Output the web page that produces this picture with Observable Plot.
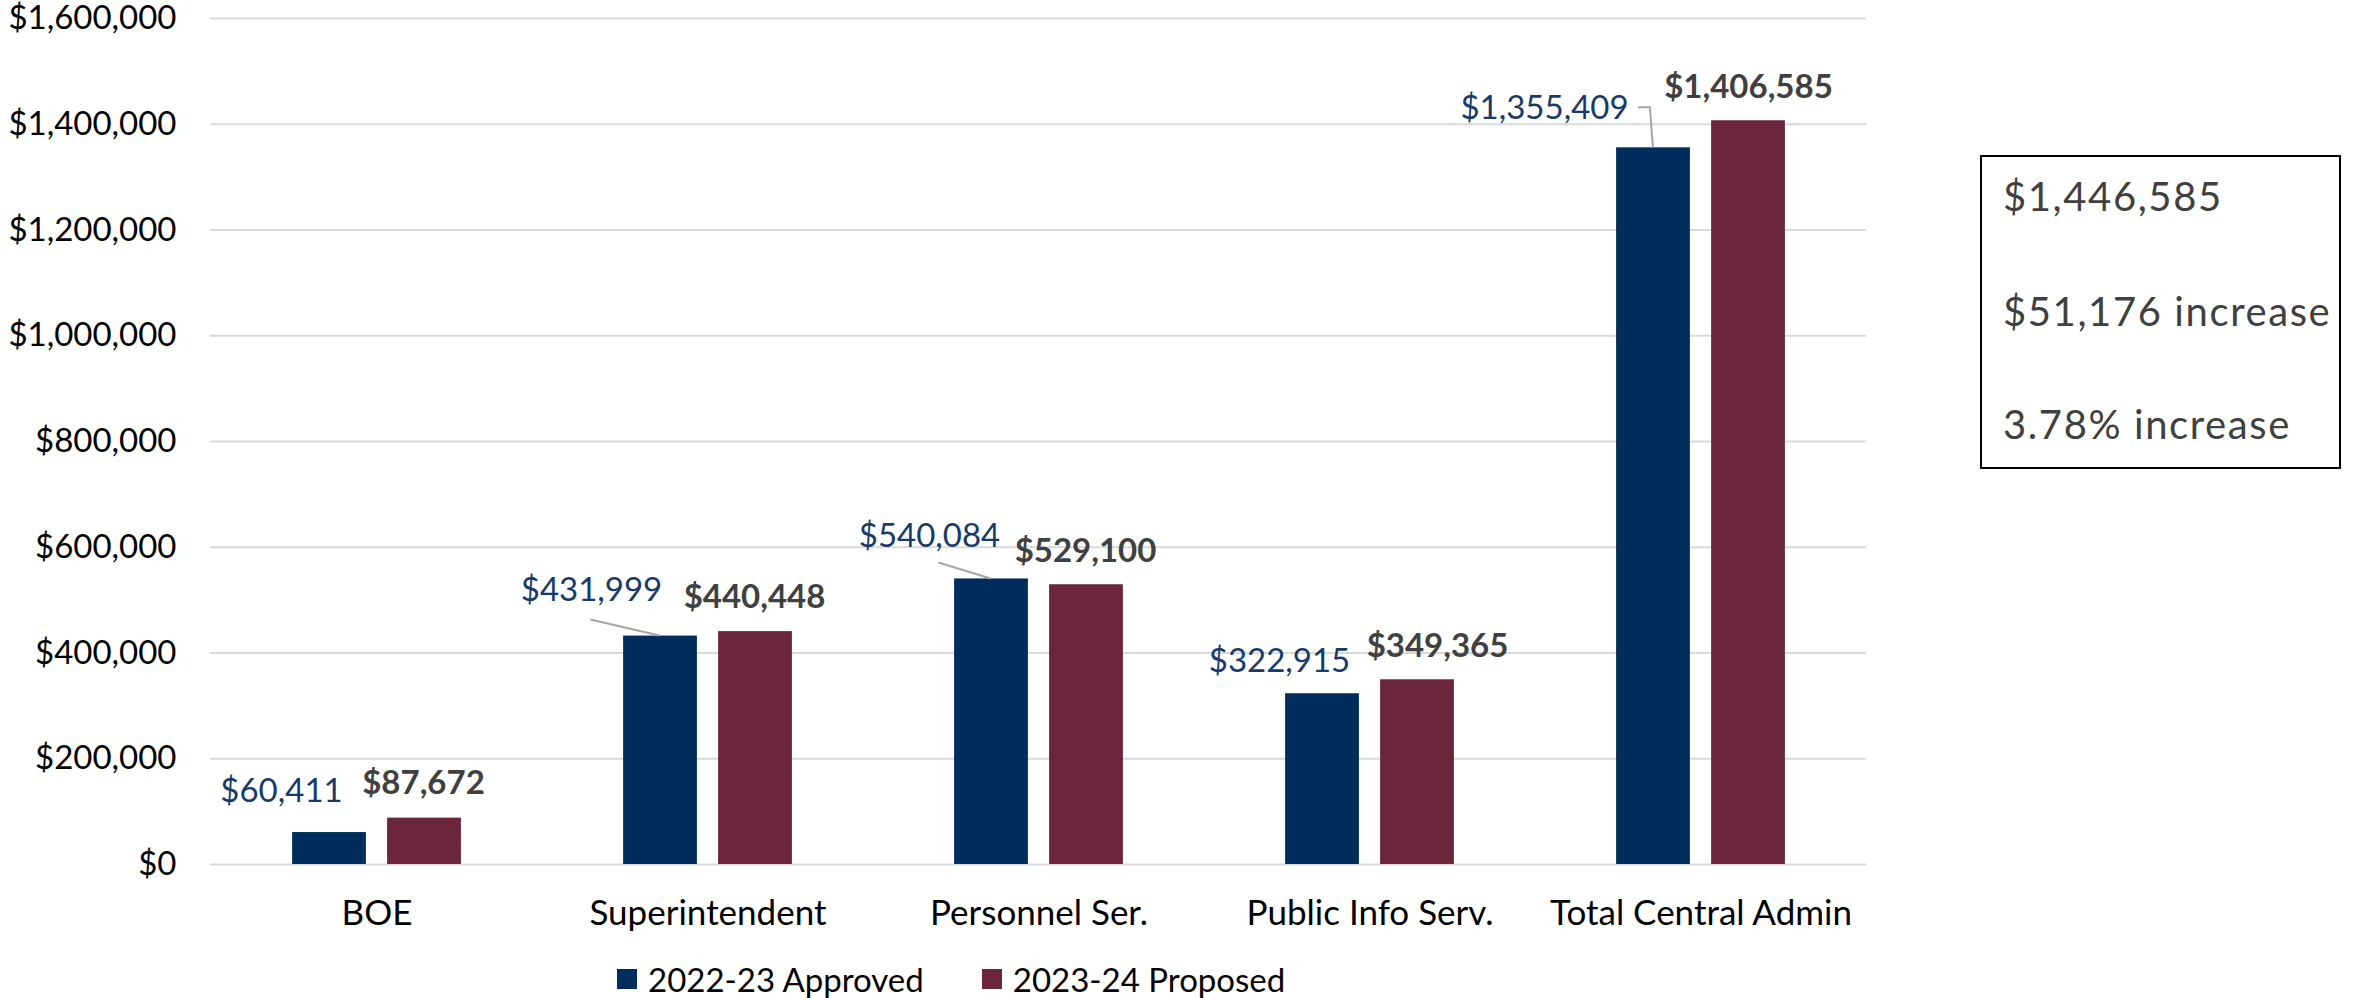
<!DOCTYPE html>
<html>
<head>
<meta charset="utf-8">
<script src="https://cdn.jsdelivr.net/npm/d3@7"></script>
<script src="https://cdn.jsdelivr.net/npm/@observablehq/plot@0.6"></script>
<style>
  html, body { margin: 0; padding: 0; background: #fff; }
  #wrap { position: relative; width: 2356px; height: 998px; font-family: Lato, "Noto Sans", sans-serif; }
  #chart { position: absolute; left: 0; top: 0; }
  #legend { position: absolute; left: 617px; top: 959px; height: 40px; display: flex; align-items: center; font-size: 33px; color: #000; }
  #legend .item { display: flex; align-items: center; margin-right: 58px; }
  #legend .sw { width: 20px; height: 20px; margin-right: 11px; }
  #box { position: absolute; left: 1980px; top: 155px; width: 357px; height: 310px; border: 2px solid #000; color: #404040; font-size: 40px; letter-spacing: 1.6px; }
  #box div { position: absolute; left: 21px; line-height: 1; transform: translateY(-50%); white-space: nowrap; }
</style>
</head>
<body>
<div id="wrap">
  <div id="chart"></div>
  <div id="legend"></div>
  <div id="box"></div>
</div>
<script>
// ---- data ----
const categories = ["BOE", "Superintendent", "Personnel Ser.", "Public Info Serv.", "Total Central Admin"];
const approved = [60411, 431999, 540084, 322915, 1355409];
const proposed = [87672, 440448, 529100, 349365, 1406585];
const seriesNames = ["2022-23 Approved", "2023-24 Proposed"];
const seriesColors = ["#002d5c", "#6c263c"];
const yTicks = [0, 200000, 400000, 600000, 800000, 1000000, 1200000, 1400000, 1600000];
const summaryLines = ["$1,446,585", "$51,176 increase", "3.78% increase"];

// ---- layout (pixel nudges for data labels, relative to bar top centre) ----
const barOffset = 47.5;
const barWidth = 74;
const blueNudge = [[-48, -41], [-69, -46], [-62, -42], [-43, -32], [-109, -39]];
const redNudge = [[-1, -35], [-1, -34], [-1, -33], [20, -33], [0, -33]];
const leaders = [
  {cat: 1, pts: [[-69, -16], [0, 0]]},
  {cat: 2, pts: [[-52, -16], [0, 0]]},
  {cat: 4, pts: [[-15, -40], [-3, -40], [0, 0]]}
];
const summaryY = [39, 154, 267];

const fmt = d => "$" + d3.format(",")(d);
const rows = categories.map((c, i) => ({category: c, approved: approved[i], proposed: proposed[i]}));

const W = 2356, H = 998, mL = 210, mR = 490, mT = 18, mB = 134;
const step = (W - mL - mR) / categories.length;
const inset = (step - barWidth) / 2;

const labelMarks = categories.flatMap((c, i) => [
  Plot.text([rows[i]], {x: "category", y: "approved", text: d => fmt(d.approved),
    dx: -barOffset + blueNudge[i][0], dy: blueNudge[i][1], fill: "#173a6a", fontSize: 33}),
  Plot.text([rows[i]], {x: "category", y: "proposed", text: d => fmt(d.proposed),
    dx: barOffset + redNudge[i][0], dy: redNudge[i][1], fill: "#404040", fontWeight: "bold", fontSize: 33})
]);

const chart = Plot.plot({
  width: W, height: H,
  marginLeft: mL, marginRight: mR, marginTop: mT, marginBottom: mB,
  style: {fontFamily: "Lato, 'Noto Sans', sans-serif", fontSize: "33px", color: "#000", background: "#fff"},
  x: {domain: categories, padding: 0},
  y: {domain: [0, 1600000]},
  marks: [
    Plot.ruleY(yTicks, {stroke: "#d9d9d9", strokeWidth: 2}),
    Plot.barY(rows, {x: "category", y: "approved", fill: seriesColors[0], dx: -barOffset, insetLeft: inset, insetRight: inset}),
    Plot.barY(rows, {x: "category", y: "proposed", fill: seriesColors[1], dx: barOffset, insetLeft: inset, insetRight: inset}),
    ...labelMarks,
    Plot.axisY(yTicks, {tickSize: 0, tickPadding: 34, tickFormat: fmt, label: null, fontSize: 33}),
    Plot.axisX({tickSize: 0, tickPadding: 36, label: null, fontSize: 35})
  ]
});
document.getElementById("chart").appendChild(chart);

// leader lines, positioned through the plot's own scales
const sx = chart.scale("x"), sy = chart.scale("y");
const xBand = d3.scaleBand().domain(sx.domain).range(sx.range)
  .paddingInner(sx.paddingInner ?? 0).paddingOuter(sx.paddingOuter ?? 0).align(sx.align ?? 0.5);
const yLin = d3.scaleLinear().domain(sy.domain).range(sy.range);
const svg = d3.select(chart);
for (const L of leaders) {
  const cx = xBand(categories[L.cat]) + xBand.bandwidth() / 2 - barOffset;
  const cy = yLin(approved[L.cat]);
  svg.append("path")
    .attr("d", d3.line()(L.pts.map(([dx, dy]) => [cx + dx, cy + dy])))
    .attr("fill", "none").attr("stroke", "#a6a6a6").attr("stroke-width", 2);
}

// legend
const legend = document.getElementById("legend");
seriesNames.forEach((s, i) => {
  const item = document.createElement("div");
  item.className = "item";
  item.innerHTML = `<span class="sw" style="background:${seriesColors[i]}"></span><span>${s}</span>`;
  legend.appendChild(item);
});

// summary box
const box = document.getElementById("box");
summaryLines.forEach((t, i) => {
  const d = document.createElement("div");
  d.textContent = t;
  d.style.top = summaryY[i] + "px";
  box.appendChild(d);
});
</script>
</body>
</html>
